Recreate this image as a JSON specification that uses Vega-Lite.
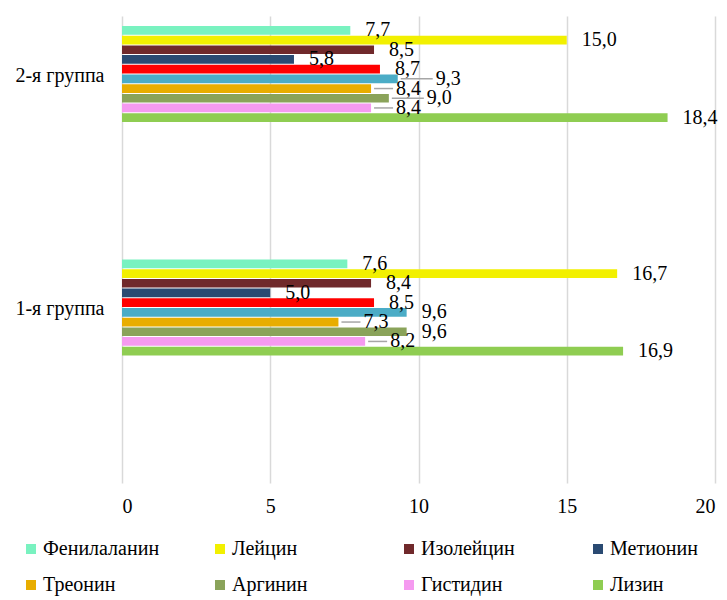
{
  "$schema": "https://vega.github.io/schema/vega-lite/v6.json",
  "width": 593,
  "height": 467,
  "autosize": {"type": "none"},
  "padding": {"left": 122, "top": 16, "right": 12, "bottom": 117},
  "config": {
    "view": {"stroke": null},
    "font": "Liberation Serif",
    "locale": {"number": {"decimal": ",", "thousands": " ", "grouping": [3], "currency": ["", ""]}}
  },
  "data": {
    "values": [
      {"group": "2-я группа", "series": "Фенилаланин", "value": 7.7},
      {"group": "2-я группа", "series": "Лейцин", "value": 15.0},
      {"group": "2-я группа", "series": "Изолейцин", "value": 8.5},
      {"group": "2-я группа", "series": "Метионин", "value": 5.8},
      {"group": "2-я группа", "series": "Валин", "value": 8.7},
      {"group": "2-я группа", "series": "Триптофан", "value": 9.3},
      {"group": "2-я группа", "series": "Треонин", "value": 8.4},
      {"group": "2-я группа", "series": "Аргинин", "value": 9.0},
      {"group": "2-я группа", "series": "Гистидин", "value": 8.4},
      {"group": "2-я группа", "series": "Лизин", "value": 18.4},
      {"group": "1-я группа", "series": "Фенилаланин", "value": 7.6},
      {"group": "1-я группа", "series": "Лейцин", "value": 16.7},
      {"group": "1-я группа", "series": "Изолейцин", "value": 8.4},
      {"group": "1-я группа", "series": "Метионин", "value": 5.0},
      {"group": "1-я группа", "series": "Валин", "value": 8.5},
      {"group": "1-я группа", "series": "Триптофан", "value": 9.6},
      {"group": "1-я группа", "series": "Треонин", "value": 7.3},
      {"group": "1-я группа", "series": "Аргинин", "value": 9.6},
      {"group": "1-я группа", "series": "Гистидин", "value": 8.2},
      {"group": "1-я группа", "series": "Лизин", "value": 16.9}
    ]
  },
  "encoding": {
    "y": {
      "field": "group", "type": "nominal",
      "sort": ["2-я группа", "1-я группа"],
      "scale": {"paddingInner": 0, "paddingOuter": 0},
      "axis": {"title": null, "domain": false, "ticks": false, "grid": false, "labelFontSize": 20, "labelColor": "#000000", "labelPadding": 18, "labelOffset": -57, "labelFont": "Liberation Serif"}
    },
    "yOffset": {
      "field": "series", "type": "nominal",
      "scale": {
        "domain": ["Фенилаланин", "Лейцин", "Изолейцин", "Метионин", "Валин", "Триптофан", "Треонин", "Аргинин", "Гистидин", "Лизин"],
        "range": [10, 106], "paddingInner": 0.1, "paddingOuter": 0
      }
    },
    "x": {
      "field": "value", "type": "quantitative",
      "scale": {"domain": [0, 20]},
      "axis": {"title": null, "values": [0, 5, 10, 15, 20], "domain": false, "ticks": false, "grid": true, "gridColor": "#d9d9d9", "gridWidth": 1.5, "labelFontSize": 20, "labelColor": "#000000", "labelPadding": 13, "labelFont": "Liberation Serif"}
    }
  },
  "layer": [
    {
      "mark": {"type": "bar"},
      "encoding": {
        "color": {
          "field": "series", "type": "nominal",
          "scale": {
            "domain": ["Фенилаланин", "Лейцин", "Изолейцин", "Метионин", "Валин", "Триптофан", "Треонин", "Аргинин", "Гистидин", "Лизин"],
            "range": ["#79f2c0", "#f2f000", "#70292b", "#2a4a72", "#ff0000", "#4bacc6", "#e8ad00", "#8aa35a", "#f59af0", "#8fcd52"]
          },
          "legend": {
            "values": ["Фенилаланин", "Лейцин", "Изолейцин", "Метионин", "Треонин", "Аргинин", "Гистидин", "Лизин"],
            "title": null, "orient": "none", "legendX": -101, "legendY": 523,
            "direction": "horizontal",
            "columns": 4, "gridAlign": "all", "columnPadding": 50, "rowPadding": 16,
            "symbolType": "square", "symbolSize": 100, "symbolStrokeWidth": 0,
            "labelFontSize": 20, "labelColor": "#000000", "labelOffset": 2, "labelLimit": 300, "labelFont": "Liberation Serif"
          }
        }
      }
    },
    {
      "transform": [{"filter": "datum.series != 'Треонин' && datum.series != 'Гистидин' && !(datum.group == '2-я группа' && (datum.series == 'Триптофан' || datum.series == 'Аргинин'))"}],
      "mark": {"type": "text", "align": "left", "baseline": "middle", "dx": 15, "fontSize": 20, "font": "Liberation Serif", "color": "#000000"},
      "encoding": {"text": {"field": "value", "type": "quantitative", "format": ".1f"}}
    },
    {
      "transform": [{"filter": "datum.series == 'Треонин' || datum.series == 'Гистидин'"}],
      "mark": {"type": "text", "align": "left", "baseline": "middle", "dx": 25, "fontSize": 20, "font": "Liberation Serif", "color": "#000000"},
      "encoding": {"text": {"field": "value", "type": "quantitative", "format": ".1f"}}
    },
    {
      "transform": [{"filter": "datum.group == '2-я группа' && (datum.series == 'Триптофан' || datum.series == 'Аргинин')"}],
      "mark": {"type": "text", "align": "left", "baseline": "middle", "dx": 38, "fontSize": 20, "font": "Liberation Serif", "color": "#000000"},
      "encoding": {"text": {"field": "value", "type": "quantitative", "format": ".1f"}}
    },
    {
      "transform": [{"filter": "datum.series == 'Треонин' || datum.series == 'Гистидин'"}],
      "mark": {"type": "rule", "color": "#a6a6a6", "strokeWidth": 1.5, "xOffset": 3, "x2Offset": 22},
      "encoding": {"x2": {"field": "value"}}
    },
    {
      "transform": [{"filter": "datum.group == '2-я группа' && (datum.series == 'Триптофан' || datum.series == 'Аргинин')"}],
      "mark": {"type": "rule", "color": "#a6a6a6", "strokeWidth": 1.5, "xOffset": 3, "x2Offset": 35},
      "encoding": {"x2": {"field": "value"}}
    }
  ]
}
